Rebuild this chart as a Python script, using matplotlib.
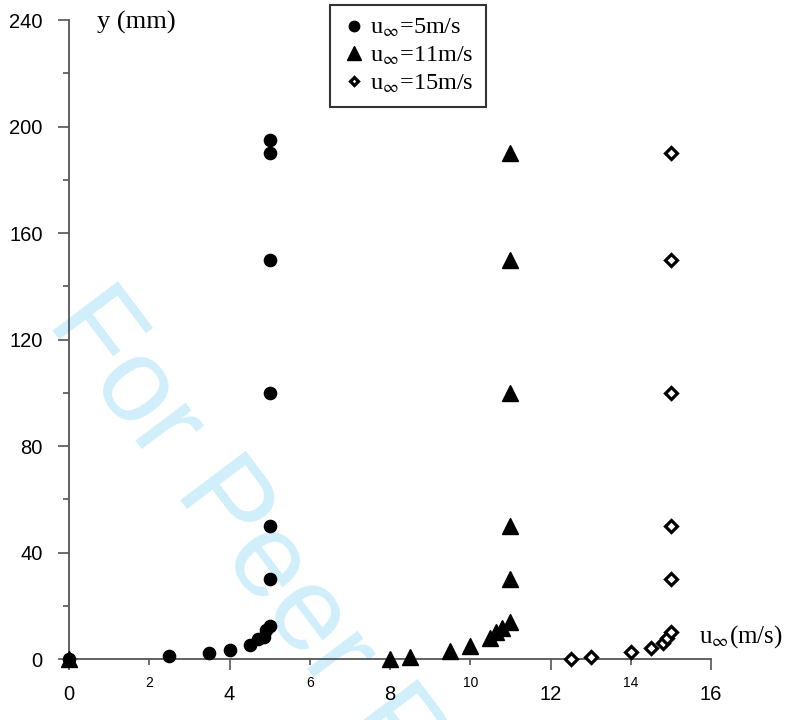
import numpy as np
import matplotlib
matplotlib.use("Agg")
import matplotlib.pyplot as plt
from matplotlib.ticker import MultipleLocator, FixedLocator, FixedFormatter

# free stream velocity 5 m/s
u5_x = [0, 2.5, 3.5, 4.0, 4.5, 4.7, 4.85, 4.9, 5.0, 5.0, 5.0, 5.0, 5.0, 5.0, 5.0]
u5_y = [0, 1.2, 2.3, 3.4, 5.3, 7.4, 8.4, 10.9, 12.4, 30, 50, 100, 150, 190, 195]

# free stream velocity 11 m/s
u11_x = [0, 8.0, 8.5, 9.5, 10.0, 10.5, 10.65, 10.8, 11.0, 11.0, 11.0, 11.0, 11.0, 11.0]
u11_y = [0, 0, 0.9, 2.9, 4.8, 8.0, 10.0, 11.5, 14.0, 30, 50, 100, 150, 190]

# free stream velocity 15 m/s
u15_x = [12.5, 13.0, 14.0, 14.5, 14.8, 14.9, 15.0, 15.0, 15.0, 15.0, 15.0, 15.0]
u15_y = [0, 0.9, 2.7, 4.2, 5.9, 7.8, 10.3, 30, 50, 100, 150, 190]

legend_labels = [r"u$_\infty$=5m/s", r"u$_\infty$=11m/s", r"u$_\infty$=15m/s"]

plt.rcParams['mathtext.fontset'] = 'stix'
plt.rcParams['font.family'] = ['Liberation Sans', 'DejaVu Sans']

fig = plt.figure(figsize=(7.87, 7.2), dpi=100)
ax = fig.add_axes([0.0877, 0.0847, 0.8158, 0.8875])
# axes above the watermark, but see-through
ax.set_zorder(2)
ax.set_facecolor('none')

# watermark behind the data
fig.text(46 / 787, 1 - 322 / 720, "For Peer Review", fontsize=86, color='#d0effb',
         rotation=-53, rotation_mode='anchor', ha='left', va='baseline', zorder=0)

ax.plot(u5_x, u5_y, 'o', color='black', ms=8.8, clip_on=False, zorder=5, label=legend_labels[0])
ax.plot(u11_x, u11_y, '^', color='black', ms=11, clip_on=False, zorder=5, label=legend_labels[1])
ax.plot(u15_x, u15_y, 'D', color='black', mfc='white', ms=5.8, mew=2.3, clip_on=False, zorder=5,
        label=legend_labels[2])

ax.set_xlim(0, 16)
ax.set_ylim(0, 240)

for side in ['top', 'right']:
    ax.spines[side].set_visible(False)
for side in ['left', 'bottom']:
    ax.spines[side].set_color('#555555')
    ax.spines[side].set_linewidth(1.3)

# y ticks: labelled every 40, small marks in between
ax.yaxis.set_major_locator(MultipleLocator(40))
ax.yaxis.set_minor_locator(MultipleLocator(20))
ax.tick_params(axis='y', which='major', length=8, width=1.2, color='#555555', labelsize=14.5, pad=11)
ax.tick_params(axis='y', which='minor', length=4.5, width=1.2, color='#555555')

# x ticks: big labels at 0,4,8,12,16 and small labels at 2,6,10,14
ax.xaxis.set_major_locator(FixedLocator([0, 4, 8, 12, 16]))
ax.xaxis.set_minor_locator(FixedLocator([2, 6, 10, 14]))
ax.xaxis.set_minor_formatter(FixedFormatter(['2', '6', '10', '14']))
ax.tick_params(axis='x', which='major', length=8, width=1.2, color='#555555', labelsize=14.5, pad=11)
ax.tick_params(axis='x', which='minor', length=4, width=1.2, color='#555555', labelsize=10, pad=8.5)

# axis titles written next to the axes ends
ax.text(97 / 787, 1 - 22 / 720, "y (mm)", transform=fig.transFigure, family='Liberation Serif',
        fontsize=19, ha='left', va='center')
ax.text(699 / 787, 1 - 637 / 720, r"u$_\infty$(m/s)", transform=fig.transFigure,
        family='Liberation Serif', fontsize=18, ha='left', va='center')

leg = ax.legend(loc='upper left', bbox_to_anchor=(330 / 787, 1 - 5 / 720), bbox_transform=fig.transFigure,
                prop={'family': 'Liberation Serif', 'size': 17.5}, frameon=True, fancybox=False,
                handletextpad=0.15, handlelength=1.0, borderpad=0.5, labelspacing=0.22,
                borderaxespad=0)
leg.get_frame().set_edgecolor('black')
leg.get_frame().set_linewidth(1.5)
leg.legend_handles[0].set_markersize(7.5)
leg.legend_handles[1].set_markersize(10)
leg.legend_handles[2].set_markersize(4.5)

plt.savefig("out.png", dpi=100)
